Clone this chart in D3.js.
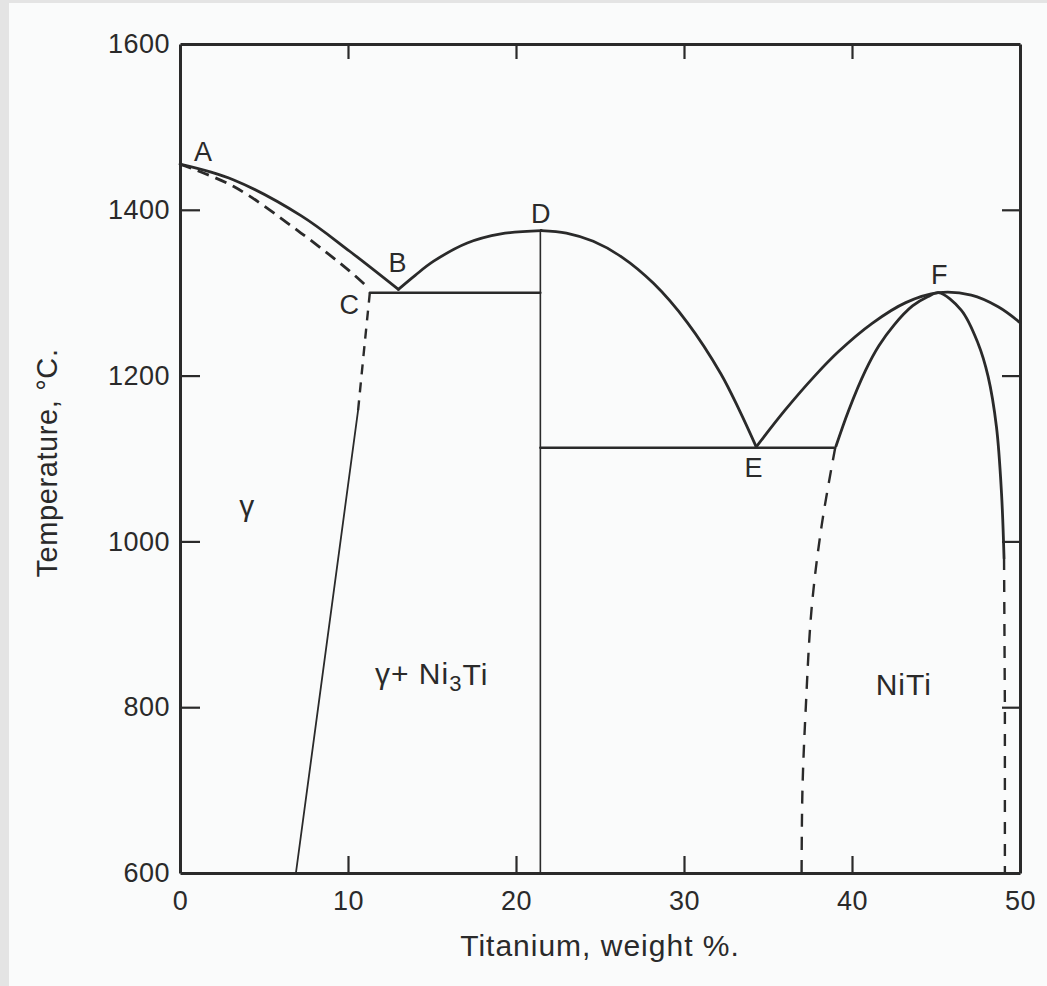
<!DOCTYPE html>
<html>
<head>
<meta charset="utf-8">
<title>Ni-Ti phase diagram</title>
<style type="text/css">
    body{
        margin: 0;
        background-color: #e4e4e4;
    }
    #chart{
        position: absolute;
        left: 9px;
        top: 3px;
        width: 1038px;
        height: 983px;
        background-color: #fafbfb;
    }
    text{
        font-family: "Liberation Sans", Arial, sans-serif;
        fill: #2a2a2a;
    }
    .axis path, .axis line{
        stroke: #2a2a2a;
    }
    .boundary{
        fill: none;
        stroke: #2a2a2a;
        stroke-linecap: round;
    }
</style>
<script src="https://cdn.jsdelivr.net/npm/d3@7"></script>
</head>
<body>
<div id="chart"></div>
<script type="text/javascript">
    // boundaries, [Ti wt %, temperature °C]
    var liquidusAB = [[0,1455],[3.2,1436],[7.2,1393],[10.1,1350],[13,1304]];
    var solidusAC = [[0,1455],[3.2,1428],[7.2,1372],[10.1,1326],[11.2,1306]];
    var solvusCdash = [[11.3,1300],[11.0,1240],[10.6,1158]];
    var solvusCsolid = [[10.6,1158],[6.9,600]];
    var liquidusBD = [[13,1304],[14.0,1321],[15.1,1338],[17.1,1360],[19.1,1371],[21.5,1375]];
    var eutecticB = [[11.3,1300],[21.45,1300]];
    var compoundD = [[21.45,1375],[21.45,600]];
    var liquidusDE = [[21.5,1375],[23.0,1372],[24.6,1362],[26.3,1343],[28.2,1311],[30.2,1264],[32.2,1202],[33.3,1158],[34.3,1114]];
    var eutecticE = [[21.45,1113],[39.0,1113]];
    var liquidusEF = [[34.3,1114],[36.0,1158],[37.8,1200],[39.2,1229],[41.2,1263],[43.2,1288],[45.15,1300],[47.1,1297],[48.7,1283],[50,1264]];
    var solidusNiTi = [[39.05,1115],[39.8,1158],[40.8,1206],[41.6,1236],[42.5,1261],[43.6,1284],[44.5,1295],[45.15,1300],[46.5,1279],[47.5,1239],[48.1,1199],[48.6,1138],[48.9,1058],[49.05,980]];
    var solvusNiTiLeft = [[39.0,1113],[38.2,1020],[37.6,920],[37.25,800],[37.05,700],[37.0,600]];
    var solvusNiTiRight = [[49.05,980],[49.1,800],[49.1,600]];

    var xTicks = [0,10,20,30,40,50];
    var yTicks = [600,800,1000,1200,1400,1600];

    var pointLabels = ['A','B','C','D','E','F'];
    var pointX = [1.37,12.95,10.08,21.48,34.13,45.2];
    var pointT = [1471,1337,1286,1396,1089,1322];

    var regionLabels = ['γ','γ+ Ni₃Ti','NiTi'];
    var regionX = [4.0,14.98,43.08];
    var regionT = [1044,841,828];

    var width = 1038, height = 983;
    var ox = 9, oy = 3;

    var svg = d3.select('#chart')
        .append('svg')
        .attr('width', width)
        .attr('height', height);

    var g = svg.append('g')
        .attr('transform', 'translate(' + (-ox) + ',' + (-oy) + ')');

    var xScale = d3.scaleLinear()
        .domain([0,50])
        .range([180,1020]);

    var yScale = d3.scaleLinear()
        .domain([600,1600])
        .range([873,44]);

    var spline = d3.line()
        .x(function(d){ return xScale(d[0]); })
        .y(function(d){ return yScale(d[1]); })
        .curve(d3.curveCatmullRom.alpha(0.5));

    var straight = d3.line()
        .x(function(d){ return xScale(d[0]); })
        .y(function(d){ return yScale(d[1]); });

    // frame and ticks
    var xAxisB = d3.axisBottom(xScale).tickValues(xTicks).tickSizeInner(-17).tickSizeOuter(0).tickPadding(18).tickFormat(d3.format('d'));
    var xAxisT = d3.axisTop(xScale).tickValues([10,20,30,40]).tickSizeInner(-15).tickSizeOuter(0).tickFormat('');
    var yAxisL = d3.axisLeft(yScale).tickValues(yTicks).tickSizeInner(-20).tickSizeOuter(0).tickPadding(10).tickFormat(d3.format('d'));
    var yAxisR = d3.axisRight(yScale).tickValues([800,1000,1200,1400]).tickSizeInner(-18).tickSizeOuter(0).tickFormat('');

    [[xAxisB,'translate(0,873)'],[xAxisT,'translate(0,44)'],[yAxisL,'translate(180,0)'],[yAxisR,'translate(1020,0)']].forEach(function(a){
        var ax = g.append('g')
            .attr('class', 'axis')
            .attr('transform', a[1])
            .call(a[0]);
        ax.select('.domain').attr('stroke-width', 3);
        ax.selectAll('.tick line').attr('stroke-width', 2.2);
        ax.selectAll('text').style('font-size', '27px').style('letter-spacing', '0.5px').attr('fill', '#2a2a2a');
    });
    g.selectAll('.axis .tick').filter(function(d){ return d === 0 || d === 50 || d === 600 || d === 1600; })
        .select('line').remove();

    // phase boundaries
    [liquidusAB, liquidusBD, liquidusDE, liquidusEF, solidusNiTi].forEach(function(pts){
        g.append('path').attr('class', 'boundary')
            .attr('d', spline(pts)).attr('stroke-width', 2.8);
    });

    g.append('path').attr('class', 'boundary')
        .attr('d', spline(solidusAC)).attr('stroke-width', 2.8)
        .attr('stroke-dasharray', '12,7').style('stroke-linecap', 'butt');
    g.append('path').attr('class', 'boundary')
        .attr('d', spline(solvusCdash)).attr('stroke-width', 2.4)
        .attr('stroke-dasharray', '10,8').style('stroke-linecap', 'butt');
    g.append('path').attr('class', 'boundary')
        .attr('d', straight(solvusCsolid)).attr('stroke-width', 1.8);
    g.append('path').attr('class', 'boundary')
        .attr('d', spline(solvusNiTiLeft)).attr('stroke-width', 2.4)
        .attr('stroke-dasharray', '13,10').style('stroke-linecap', 'butt');
    g.append('path').attr('class', 'boundary')
        .attr('d', straight(solvusNiTiRight)).attr('stroke-width', 2.4)
        .attr('stroke-dasharray', '12,10').style('stroke-linecap', 'butt');

    [eutecticB, eutecticE].forEach(function(pts){
        g.append('path').attr('class', 'boundary')
            .attr('d', straight(pts)).attr('stroke-width', 2.4);
    });
    g.append('path').attr('class', 'boundary')
        .attr('d', straight(compoundD)).attr('stroke-width', 1.6);

    // point letters
    g.selectAll('.pt')
        .data(pointLabels)
        .enter()
        .append('text')
        .attr('class', 'pt')
        .attr('x', function(d,i){ return xScale(pointX[i]); })
        .attr('y', function(d,i){ return yScale(pointT[i]); })
        .attr('text-anchor', 'middle')
        .attr('dy', '0.36em')
        .style('font-size', '27px')
        .text(function(d){ return d; });

    // region labels
    regionLabels.forEach(function(lab, i){
        var t = g.append('text')
            .attr('x', xScale(regionX[i]))
            .attr('y', yScale(regionT[i]))
            .attr('text-anchor', 'middle')
            .attr('dy', '0.36em')
            .style('font-size', '30px')
            .style('letter-spacing', '1px');
        if (lab.indexOf('₃') >= 0) {
            t.append('tspan').text('γ+ Ni');
            t.append('tspan').attr('dy', '0.3em').style('font-size', '22px').text('3');
            t.append('tspan').attr('dy', '-0.2em').text('Ti');
        } else {
            t.text(lab);
        }
    });

    // axis titles
    g.append('text')
        .attr('x', 600)
        .attr('y', 945)
        .attr('text-anchor', 'middle')
        .attr('dy', '0.36em')
        .style('font-size', '30px')
        .style('letter-spacing', '1px')
        .text('Titanium, weight %.');

    g.append('text')
        .attr('transform', 'translate(47,463) rotate(-90)')
        .attr('text-anchor', 'middle')
        .attr('dy', '0.36em')
        .style('font-size', '29px')
        .style('letter-spacing', '0.6px')
        .text('Temperature, °C.');
</script>
</body>
</html>
